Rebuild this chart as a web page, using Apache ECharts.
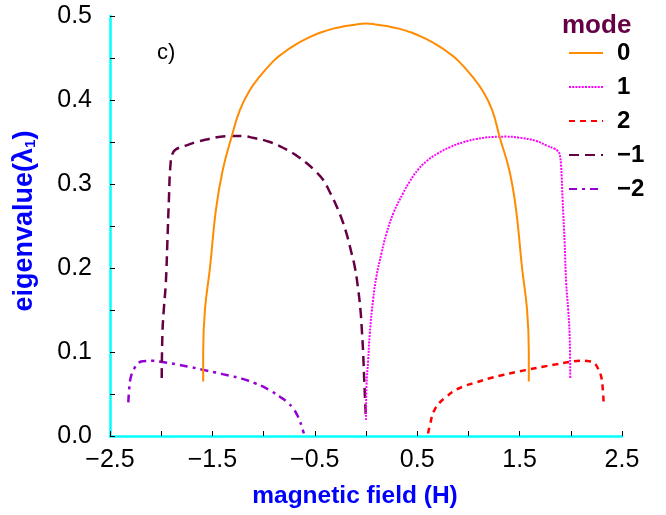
<!DOCTYPE html>
<html>
<head>
<meta charset="utf-8">
<script src="https://cdn.jsdelivr.net/npm/echarts@6/dist/echarts.min.js"></script>
<style>html,body{margin:0;padding:0;background:#fff;}#c{width:666px;height:515px;}</style>
</head>
<body>
<div id="c"></div>
<script>
const modeNames = ['0', '1', '2', '\u22121', '\u22122'];
const mode0 = [[-1.59,0.065],[-1.59,0.10],[-1.573,0.15],[-1.524,0.20],[-1.466,0.269],[-1.40,0.316],[-1.313,0.356],[-1.232,0.388],[-1.134,0.412],[-1.037,0.428],[-0.907,0.446],[-0.809,0.456],[-0.70,0.465],[-0.581,0.473],[-0.45,0.480],[-0.321,0.485],[-0.20,0.488],[-0.093,0.490],[0,0.491],[0.093,0.490],[0.20,0.488],[0.321,0.485],[0.45,0.480],[0.581,0.473],[0.70,0.465],[0.809,0.456],[0.907,0.446],[1.037,0.428],[1.134,0.412],[1.232,0.388],[1.305,0.356],[1.40,0.316],[1.466,0.269],[1.524,0.20],[1.573,0.15],[1.59,0.10],[1.59,0.065]];
const mode1 = [[0,0.019],[0.0045,0.059],[0.021,0.09],[0.037,0.122],[0.069,0.162],[0.102,0.19],[0.151,0.2175],[0.2,0.241],[0.27,0.266],[0.362,0.289],[0.427,0.303],[0.508,0.317],[0.589,0.327],[0.703,0.3365],[0.817,0.3437],[0.947,0.3496],[1.077,0.3536],[1.24,0.356],[1.37,0.3564],[1.5,0.3551],[1.663,0.3512],[1.76,0.346],[1.84,0.342],[1.875,0.339],[1.89,0.336],[1.905,0.322],[1.92,0.281],[1.94,0.23],[1.955,0.182],[1.975,0.15],[1.988,0.122],[1.995,0.069]];
const mode2 = [[0.6057,0.003],[0.628,0.0151],[0.661,0.029],[0.7195,0.0397],[0.7846,0.0468],[0.8659,0.054],[0.9634,0.0595],[1.0772,0.0639],[1.2073,0.0687],[1.337,0.0726],[1.4675,0.0762],[1.5976,0.0794],[1.7276,0.0825],[1.8577,0.0853],[1.9878,0.0881],[2.0854,0.0897],[2.183,0.0889],[2.2317,0.0865],[2.264,0.0806],[2.297,0.0706],[2.313,0.0548],[2.32,0.0409]];
const modeM1 = [[-1.995,0.069],[-1.988,0.122],[-1.975,0.15],[-1.955,0.182],[-1.94,0.23],[-1.925,0.281],[-1.91,0.322],[-1.89,0.336],[-1.86,0.341],[-1.752,0.346],[-1.66,0.350],[-1.557,0.353],[-1.44,0.356],[-1.33,0.357],[-1.21,0.357],[-1.102,0.355],[-0.939,0.350],[-0.776,0.341],[-0.68,0.334],[-0.581,0.325],[-0.50,0.316],[-0.419,0.305],[-0.36,0.292],[-0.30,0.277],[-0.245,0.261],[-0.19,0.241],[-0.15,0.222],[-0.11,0.2016],[-0.08,0.178],[-0.054,0.15],[-0.04,0.125],[-0.029,0.102],[-0.015,0.06],[0,0.019]];
const modeM2 = [[-2.321,0.040],[-2.313,0.055],[-2.297,0.070],[-2.264,0.080],[-2.232,0.086],[-2.183,0.089],[-2.085,0.0895],[-1.988,0.088],[-1.858,0.0855],[-1.728,0.0825],[-1.598,0.079],[-1.467,0.0755],[-1.337,0.0718],[-1.207,0.068],[-1.077,0.0625],[-1.004,0.0587],[-0.92,0.053],[-0.841,0.0468],[-0.775,0.041],[-0.712,0.033],[-0.672,0.025],[-0.646,0.018],[-0.625,0.01],[-0.607,0.003]];
const xTickLabels = ['\u22122.5','\u22121.5','\u22120.5','0.5','1.5','2.5'];
const yTickLabels = ['0.0','0.1','0.2','0.3','0.4','0.5'];

const seriesData = [mode0, mode1, mode2, modeM1, modeM2];
const colors = ['#ff8c00', '#ff00ff', '#ff0000', '#660044', '#9400d3'];
const dashes = ['solid', [2, 1.2], [6, 5], [10, 6], [8, 5, 3, 5]];
const widths = [2, 2, 2.5, 2.5, 2.5];

const chart = echarts.init(document.getElementById('c'));
const fontFam = '"Liberation Sans", Arial, sans-serif';
chart.setOption({
  animation: false,
  textStyle: {fontFamily: fontFam},
  grid: {left: 110, right: 44, top: 16, bottom: 79},
  xAxis: {
    type: 'value', min: -2.5, max: 2.5, interval: 0.5,
    axisLine: {onZero: false, lineStyle: {color: '#00ffff', width: 2.5}},
    axisTick: {inside: true, length: 5, lineStyle: {color: '#000', width: 1}},
    splitLine: {show: false},
    axisLabel: {
      color: '#000', fontSize: 25, margin: 12, fontFamily: fontFam,
      formatter: v => {
        const k = Math.round(v * 2);
        if (Math.abs(k) % 2 !== 1) return '';
        return xTickLabels[(k + 5) / 2];
      }
    },
    name: 'magnetic field (H)', nameLocation: 'middle', nameGap: 48,
    nameTextStyle: {color: '#0000ff', fontSize: 24.5, fontWeight: 'bold', fontFamily: fontFam, padding: [0, 22, 0, 0]}
  },
  yAxis: {
    type: 'value', min: 0, max: 0.5, interval: 0.05,
    axisLine: {onZero: false, lineStyle: {color: '#00ffff', width: 2.5}},
    axisTick: {inside: true, length: 5, lineStyle: {color: '#000', width: 1}},
    splitLine: {show: false},
    axisLabel: {
      color: '#000', fontSize: 25, margin: 18, fontFamily: fontFam,
      formatter: v => {
        const k = Math.round(v * 20);
        if (k % 2 !== 0) return '';
        return yTickLabels[k / 2];
      }
    },
    name: 'eigenvalue(λ{sub|1})', nameLocation: 'middle', nameGap: 72,
    nameTextStyle: {color: '#0000ff', fontSize: 27, fontWeight: 'bold', fontFamily: fontFam, padding: [0, 0, 0, 10],
      rich: {sub: {fontSize: 15, color: '#0000ff', fontFamily: fontFam, verticalAlign: 'bottom', padding: [10, 0, 0, 0]}}}
  },
  legend: {
    orient: 'vertical', left: 568, top: 41, padding: 0, itemWidth: 34, itemHeight: 20, itemGap: 10,
    data: modeNames,
    itemStyle: {opacity: 0},
    textStyle: {color: '#000', fontSize: 24, lineHeight: 20, fontWeight: 'bold', fontFamily: fontFam, padding: [0, 0, 0, 9]}
  },
  graphic: [
    {type: 'text', left: 157, top: 42, style: {text: 'c)', font: '22px "Liberation Sans", Arial, sans-serif', fill: '#000'}},
    {type: 'text', left: 562, top: 13, style: {text: 'mode', font: 'bold 26px "Liberation Sans", Arial, sans-serif', fill: '#660044'}}
  ],
  series: seriesData.map((d, i) => ({
    name: modeNames[i], type: 'line', data: d, showSymbol: false, symbol: 'none',
    smooth: 0.45, z: 5 - i,
    lineStyle: {color: colors[i], width: widths[i], type: dashes[i]},
    itemStyle: {color: colors[i]}
  }))
});
</script>
</body>
</html>
